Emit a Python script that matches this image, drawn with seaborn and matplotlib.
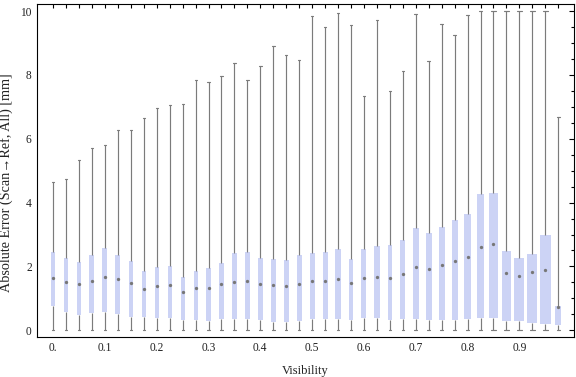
import numpy as np
import pandas as pd
import matplotlib
matplotlib.use("Agg")
import matplotlib.pyplot as plt
from matplotlib.ticker import MultipleLocator, FixedLocator
import seaborn as sns

# ---- data ----
visibility = [round(0.025 * i, 3) for i in range(40)]
err_min = [0.0] * 40
err_q1 = [0.75, 0.56, 0.48, 0.54, 0.58, 0.51, 0.42, 0.42, 0.39, 0.39,
          0.32, 0.32, 0.29, 0.35, 0.35, 0.35, 0.32, 0.26, 0.26, 0.29,
          0.35, 0.35, 0.35, 0.33, 0.39, 0.39, 0.32, 0.35, 0.35, 0.32,
          0.32, 0.32, 0.35, 0.39, 0.39, 0.29, 0.29, 0.23, 0.20, 0.17]
err_median = [1.65, 1.51, 1.44, 1.56, 1.68, 1.60, 1.48, 1.30, 1.38, 1.43,
              1.19, 1.34, 1.31, 1.45, 1.51, 1.53, 1.46, 1.43, 1.40, 1.45,
              1.56, 1.55, 1.62, 1.49, 1.64, 1.66, 1.65, 1.77, 1.99, 1.91,
              2.06, 2.18, 2.30, 2.62, 2.70, 1.81, 1.70, 1.84, 1.89, 0.72]
err_q3 = [2.44, 2.28, 2.13, 2.35, 2.57, 2.35, 2.17, 1.86, 1.98, 2.01,
          1.66, 1.86, 1.94, 2.10, 2.41, 2.44, 2.28, 2.22, 2.19, 2.35,
          2.41, 2.45, 2.54, 2.22, 2.54, 2.64, 2.66, 2.82, 3.19, 3.04,
          3.22, 3.47, 3.63, 4.28, 4.31, 2.47, 2.28, 2.38, 3.00, 0.75]
err_max = [4.66, 4.75, 5.34, 5.70, 5.81, 6.28, 6.28, 6.64, 6.97, 7.06,
           7.08, 7.85, 7.79, 7.97, 8.36, 7.85, 8.28, 8.91, 8.63, 8.47,
           9.85, 9.50, 9.94, 9.55, 7.35, 9.72, 7.50, 8.11, 9.91, 8.44,
           9.60, 9.25, 9.88, 10.0, 10.0, 10.0, 10.0, 10.0, 10.0, 6.69]
tick_values = [0.0, 0.1, 0.2, 0.3, 0.4, 0.5, 0.6, 0.7, 0.8, 0.9]
tick_labels = ["0.", "0.1", "0.2", "0.3", "0.4", "0.5", "0.6", "0.7", "0.8", "0.9"]
y_ticks = [0, 2, 4, 6, 8, 10]

# box widths as seen in the reference (pixels, spacing between boxes ~13 px)
box_width_px = [3.7, 4, 4, 5, 5, 5, 4, 4, 4, 4, 4, 4, 4.7, 5, 5, 5, 5, 5, 5, 5,
                5, 5, 5.3, 4, 5, 5.3, 4, 5, 6, 6, 6, 6, 7, 7, 9, 9, 10, 10, 11, 6]

cats = [f"{v:.3f}" for v in visibility]
rows = []
for c, a, b, m, d, e in zip(cats, err_min, err_q1, err_median, err_q3, err_max):
    for val in (a, b, m, d, e):
        rows.append({"vis": c, "err": val})
df = pd.DataFrame(rows)
med_df = pd.DataFrame({"vis": cats, "err": err_median})

sns.set_style("white")
plt.rcParams["font.family"] = ["Liberation Serif", "DejaVu Serif"]

fig = plt.figure(figsize=(5.76, 3.77), dpi=100)
ax = fig.add_axes([36.5 / 576, 1 - 336.7 / 377, (574.3 - 36.5) / 576, (336.7 - 4.3) / 377])

box_color = "#ccd3f5"
line_color = "#7b7b7b"
spacing_px = 12.95
for i, c in enumerate(cats):
    sns.boxplot(data=df[df["vis"] == c], x="vis", y="err", order=cats,
                width=box_width_px[i] / spacing_px, whis=(0, 100),
                color=box_color, saturation=1, linecolor=line_color,
                linewidth=0.85, showfliers=False,
                medianprops={"visible": False}, ax=ax)

for p in ax.patches:
    p.set_edgecolor("none")

sns.stripplot(data=med_df, x="vis", y="err", order=cats, jitter=False,
              color="#777777", size=2.4, marker="o", linewidth=0, ax=ax, zorder=5)

ax.set_xlim(-1.28, 40.24)
ax.set_ylim(-0.2, 10.21)

ax.xaxis.set_major_locator(FixedLocator([v / 0.025 for v in tick_values]))
ax.set_xticklabels(tick_labels)
ax.xaxis.set_minor_locator(FixedLocator(list(range(40))))
ax.yaxis.set_major_locator(FixedLocator(y_ticks))
ax.yaxis.set_minor_locator(MultipleLocator(0.5))
ax.set_yticklabels([str(t) for t in y_ticks])

ax.tick_params(which="both", direction="in", top=True, right=True,
               color="black", width=0.8, labelsize=8.3, labelcolor="#222222")
ax.tick_params(axis="x", which="both", length=3.2, pad=4)
ax.tick_params(axis="y", which="major", length=3.6, pad=3.5)
ax.tick_params(axis="y", which="minor", length=2.2)

for s in ax.spines.values():
    s.set_color("black")
    s.set_linewidth(0.8)
    s.set_visible(True)

ax.set_xlabel("Visibility", fontsize=9, color="#222222")
ax.set_ylabel("Absolute Error (Scan\u2192Ref, All) [mm]", fontsize=10.2, color="#222222")
ax.xaxis.set_label_coords(0.5, -0.085)
ax.yaxis.set_label_coords(-0.043, 0.462)
ax.grid(False)

fig.savefig("out.png", dpi=100)
